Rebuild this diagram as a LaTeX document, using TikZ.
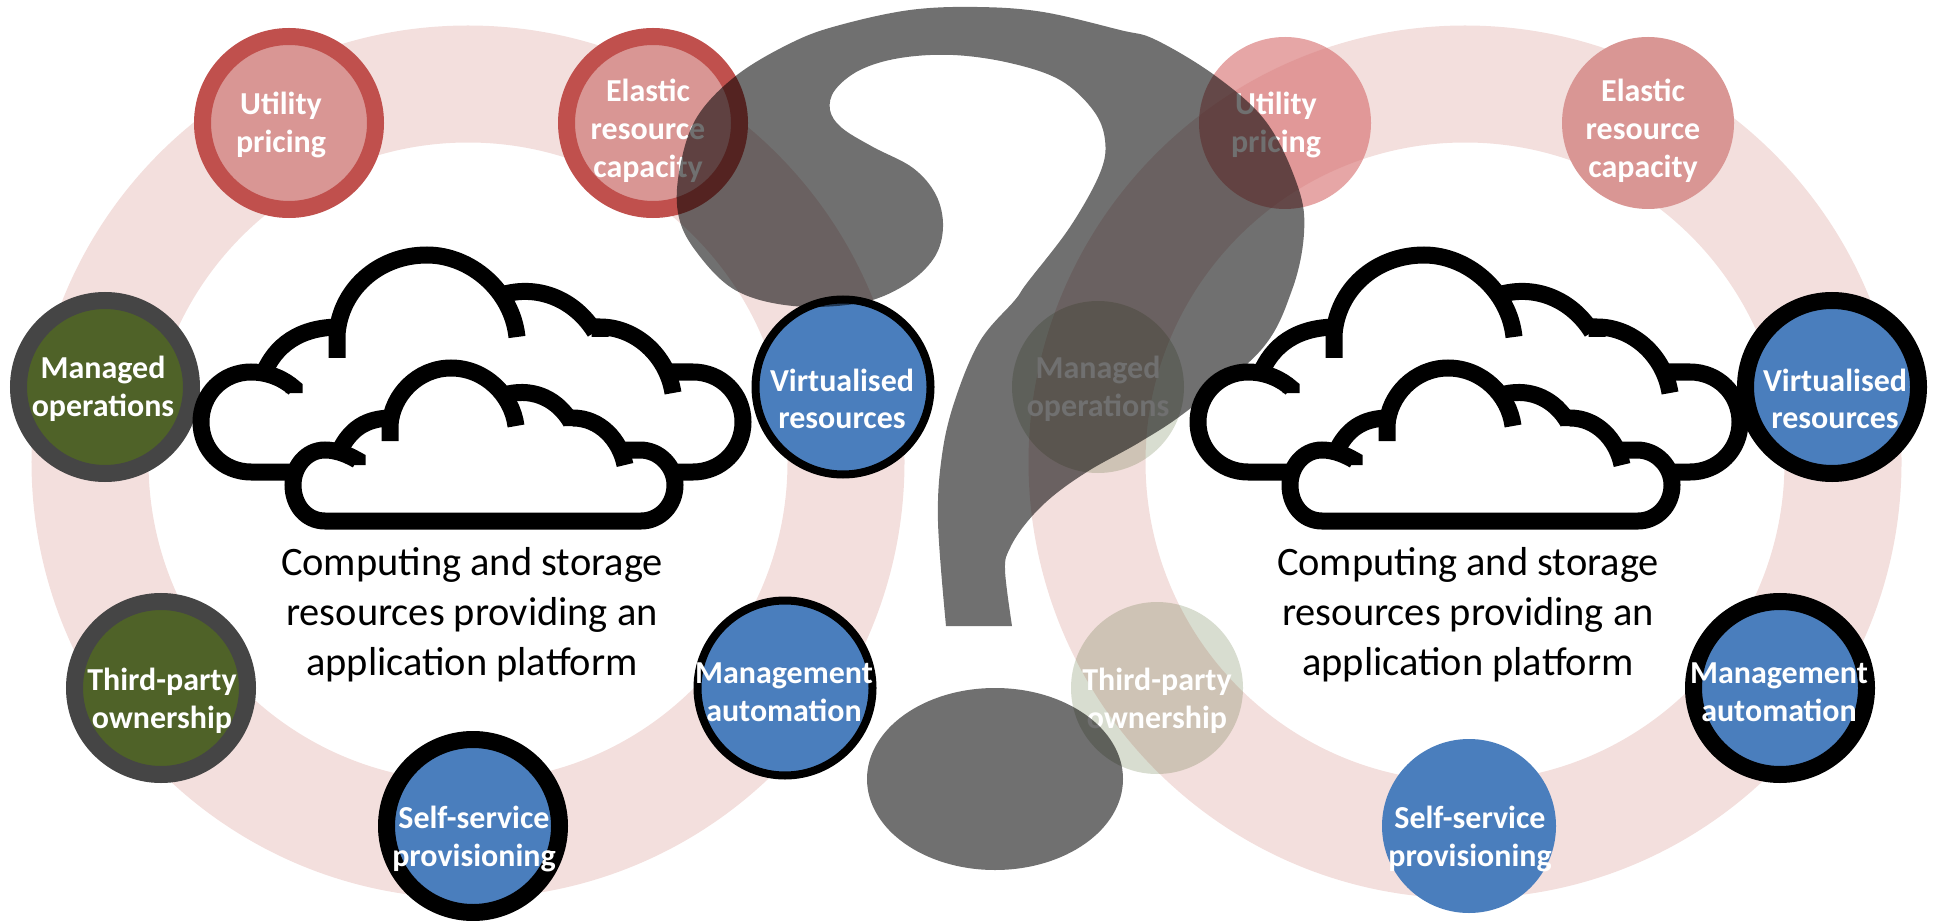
\documentclass[tikz,border=0pt]{standalone}
\usepackage{fontspec}
\setmainfont{Carlito}
\definecolor{ringpink}{HTML}{F3DFDD}
\definecolor{redline}{HTML}{C0504D}
\definecolor{redfill}{HTML}{D99694}
\definecolor{palered}{HTML}{D56A6A}
\definecolor{greenfill}{HTML}{4F6228}
\definecolor{greyline}{HTML}{454545}
\definecolor{bluefill}{HTML}{4A7EBD}
\tikzset{
    ringband/.style={draw=ringpink, line width=23.4mm},
    bubble/.style={shape=circle, inner sep=0pt},
    redbub/.style={bubble, draw=redline, fill=redfill, line width=3.4mm, minimum size=34.6mm},
    greenbub/.style={bubble, draw=greyline, fill=greenfill, line width=3.4mm, minimum size=34.6mm},
    blackbub/.style={bubble, draw=black, fill=bluefill, line width=3.4mm, minimum size=34.6mm},
    thinbub/.style={bubble, draw=black, fill=bluefill, line width=1.6mm, minimum size=35mm},
    plainred/.style={bubble, fill=redfill, minimum size=34.4mm},
    paleRed/.style={bubble, fill=palered, fill opacity=.6, minimum size=34.4mm},
    paleGreen/.style={bubble, fill=greenfill, fill opacity=.22, minimum size=34.4mm},
    plainblue/.style={bubble, fill=bluefill, minimum size=34.8mm},
    bubtext/.style={align=center, text=white, font=\fontsize{18.2}{21.5}\selectfont\bfseries},
    caption/.style={align=center, font=\fontsize{23}{28.4}\selectfont},
    cloudline/.style={line width=3.4mm, draw=black},
}
\begin{document}
\begin{tikzpicture}[x=0.2mm, y=-0.2mm]
    \useasboundingbox (0,0) rectangle (1941,921);

    % the two rings
    \node[shape=circle, inner sep=0pt, minimum size=0pt] (LC) at (468,462) {};
    \node[shape=circle, inner sep=0pt, minimum size=0pt] (RC) at (1465,462) {};
    \draw[ringband] (LC) circle[radius=378];
    \draw[ringband] (RC) circle[radius=378];

    % left ring
    \node[redbub] (LUP) at (289,123) {};
    \node[redbub] (LER) at (653,123) {};
    \node[greenbub] (LMO) at (105,387) {};
    \node[thinbub] (LVR) at (843,387) {};
    \node[greenbub] (LTP) at (161,688) {};
    \node[thinbub] (LMA) at (785,688) {};
    \node[blackbub] (LSP) at (473,826) {};

    \node[bubtext] (LUPt) at (281,125) {Utility\\pricing};
    \node[bubtext] (LERt) at (648,131) {Elastic\\resource\\capacity};
    \node[bubtext] (LMOt) at (103,389) {Managed\\operations};
    \node[bubtext] (LVRt) at (842,399) {Virtualised\\resources};
    \node[bubtext] (LTPt) at (162,701) {Third-party\\ownership};
    \node[bubtext] (LMAt) at (784,692) {Management\\automation};
    \node[bubtext] (LSPt) at (474,839) {Self-service\\provisioning};

    % right ring
    \node[paleRed] (RUP) at (1285,123) {};
    \node[plainred] (RER) at (1648,123) {};
    \node[paleGreen] (RMO) at (1098,387) {};
    \node[blackbub] (RVR) at (1832,387) {};
    \node[paleGreen] (RTP) at (1157,688) {};
    \node[blackbub] (RMA) at (1780,688) {};
    \node[plainblue] (RSP) at (1469,826) {};

    \node[bubtext] (RUPt) at (1276,125) {Utility\\pricing};
    \node[bubtext] (RERt) at (1643,131) {Elastic\\resource\\capacity};
    \node[bubtext] (RMOt) at (1098,389) {Managed\\operations};
    \node[bubtext] (RVRt) at (1835,399) {Virtualised\\resources};
    \node[bubtext] (RTPt) at (1157,701) {Third-party\\ownership};
    \node[bubtext] (RMAt) at (1779,692) {Management\\automation};
    \node[bubtext] (RSPt) at (1470,839) {Self-service\\provisioning};

    % question mark
    \fill[black, fill opacity=.56] plot[smooth, tension=.6] coordinates {
        (946,626) (938,522) (942,455) (955,400) (980,341) (1015,300) (1027,283)
        (1070,227) (1100,173) (1105,140) (1093,110) (1060,80) (1010,63) (953,55)
        (900,58) (860,70) (835,90) (830,110) (842,128) (873,147) (913,168)
        (936,195) (943,227) (934,258) (905,285) (860,303) (793,306) (735,290)
        (695,250) (678,213) (680,167) (697,117) (737,75) (793,42) (840,25)
        (910,10) (977,7) (1043,12) (1120,30) (1156,40) (1217,77) (1267,123)
        (1298,187) (1304,233) (1292,290) (1261,350) (1187,411) (1140,442)
        (1090,470) (1053,496) (1027,522) (1010,548) (1005,570) (1012,626)} -- cycle;
    \fill[black, fill opacity=.56] (995,779) ellipse[x radius=128, y radius=91];

    % clouds
    \foreach \dx in {0,997} {
        \begin{scope}[xshift=\dx*0.2mm]
            % large one
            \draw[cloudline] (337,358) -- (337,335) .. controls (340,290) and (378,255) .. (427,255) .. controls (470,255) and (512,290) .. (517,337);
            \draw[cloudline] (505,294) .. controls (540,285) and (575,300) .. (595,332);
            \draw[cloudline] (600,337) -- (600,327) .. controls (635,327) and (667,355) .. (673,393);
            \draw[cloudline] (672,372) -- (693,372) .. controls (721,372) and (743,394) .. (743,422) .. controls (743,450) and (721,472) .. (693,472) -- (672,472);
            \draw[cloudline] (295,472) -- (251,472) .. controls (223,472) and (201,450) .. (201,422) .. controls (201,394) and (223,372) .. (251,372) .. controls (270,372) and (285,380) .. (294,388) -- (294,393);
            \draw[cloudline] (263,375) .. controls (275,345) and (300,327) .. (340,327);
            % small one
            \draw[cloudline] (390,441) -- (390,425) .. controls (392,395) and (418,368) .. (451,368) .. controls (485,368) and (512,395) .. (516,426);
            \draw[cloudline] (508,394) .. controls (535,388) and (558,400) .. (571,422);
            \draw[cloudline] (573,426) -- (573,418) .. controls (600,418) and (620,440) .. (625,465);
            \draw[cloudline] (620,450) -- (640,450) .. controls (660,450) and (675,467) .. (675,485) .. controls (675,505) and (660,521) .. (641,521) -- (325,521) .. controls (306,521) and (293,505) .. (293,485) .. controls (293,467) and (306,450) .. (325,450) .. controls (338,450) and (350,456) .. (357,460) -- (357,465);
            \draw[cloudline] (340,450) .. controls (350,430) and (365,418) .. (392,418);
        \end{scope}
    }

    % captions
    \node[caption] (LCap) at (472,615) {Computing and storage\\resources providing an\\application platform};
    \node[caption] (RCap) at (1468,615) {Computing and storage\\resources providing an\\application platform};
\end{tikzpicture}
\end{document}
